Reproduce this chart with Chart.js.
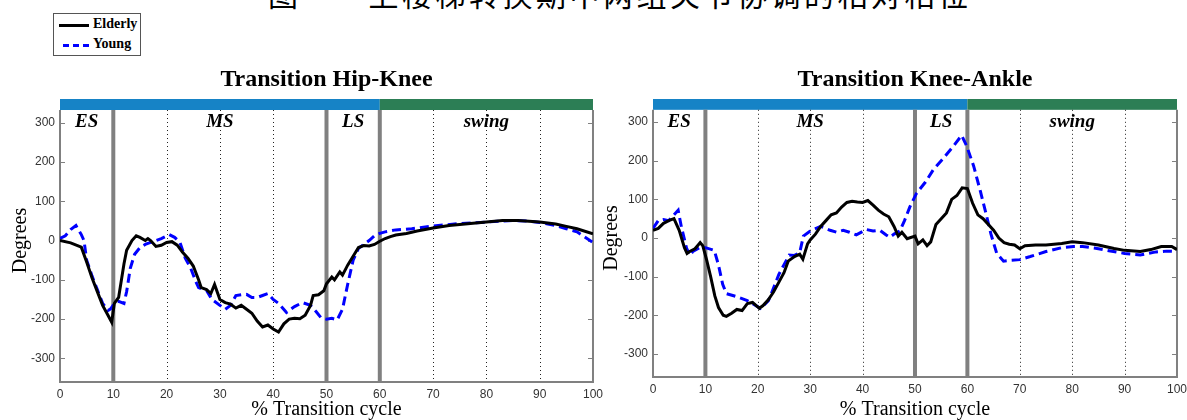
<!DOCTYPE html>
<html>
<head>
<meta charset="utf-8">
<script src="https://cdn.jsdelivr.net/npm/chart.js@4.4.1/dist/chart.umd.min.js"></script>
<style>
  body { margin: 0; background: #fff; width: 1187px; height: 420px; overflow: hidden; position: relative; }
  canvas { position: absolute; top: 0; }
  #figTitle { position: absolute; left: 268px; top: -23px; font: 30px "Noto Sans CJK SC", sans-serif; line-height: 32px; white-space: pre; letter-spacing: 3.5px; color: #000; }
  #legend { position: absolute; left: 53px; top: 13px; width: 88px; height: 43px; border: 1px solid #555; box-sizing: border-box; font: bold 14px "Liberation Serif", "Times New Roman", serif; }
  .row { position: absolute; left: 5px; height: 16px; }
  .row span.ln { position: absolute; left: 0; top: 8px; width: 30px; border-top: 3px solid #000; }
  .row span.tx { position: absolute; left: 34px; top: 0; line-height: 16px; }
</style>
</head>
<body>
<div id="figTitle">图　　上楼梯转换期中两组关节协调的相对相位</div>
<div id="legend">
  <div class="row" style="top:2px"><span class="ln"></span><span class="tx">Elderly</span></div>
  <div class="row" style="top:22px"><span class="ln" style="border-top:3px dashed #0000ff; left:4px; width:26px"></span><span class="tx">Young</span></div>
</div>
<canvas id="hipKnee" width="608" height="420" style="left:0"></canvas>
<canvas id="kneeAnkle" width="602" height="420" style="left:590px"></canvas>
<script>
// tick labels and phases
const xTicks = [0, 10, 20, 30, 40, 50, 60, 70, 80, 90, 100];
const yTicks = [-300, -200, -100, 0, 100, 200, 300];
const phaseLabels = ['ES', 'MS', 'LS', 'swing'];
const phaseCenters = [5, 30, 55, 80];
const phaseBounds = [10, 50, 60];
const dottedLines = [20, 30, 40, 70, 80, 90];

// Transition Hip-Knee
const hkElderlyX = [0, 2, 4, 5, 6, 7, 8, 9, 9.7, 10.2, 11, 12, 12.5, 13.5, 14.3, 15, 16, 16.5, 17, 18, 19, 20, 21, 22, 23, 24, 25, 26, 26.5, 27.5, 28.3, 29, 30, 31, 32, 33, 34, 35, 36, 37, 38, 39, 40, 41, 42, 43, 44, 45, 46, 47, 47.5, 48.5, 49.5, 50, 51, 51.5, 52.5, 53, 54, 55, 56, 57, 58, 59, 60, 61, 62, 63, 65, 67, 70, 73, 76, 80, 83, 86, 90, 93, 95, 97, 100];
const hkElderlyY = [0, -6, -17, -55, -95, -130, -165, -190, -208, -160, -145, -60, -25, 0, 12, 8, 0, 5, 0, -15, -12, -5, -3, -12, -30, -45, -65, -100, -120, -125, -135, -112, -150, -158, -162, -172, -165, -175, -185, -205, -220, -215, -225, -233, -212, -200, -198, -199, -190, -165, -140, -138, -128, -110, -93, -100, -80, -88, -62, -40, -18, -13, -14, -10, -2, 5, 10, 14, 18, 24, 32, 38, 42, 47, 51, 51, 47, 42, 36, 30, 17];
const hkYoungX = [0, 1, 2, 3, 4, 4.5, 5, 6, 7, 8, 9, 9.5, 10.3, 11, 12, 12.5, 13.2, 14, 15, 16, 17, 18, 19, 20.5, 21.5, 22.5, 23.5, 24.5, 25.5, 26, 27.5, 28.5, 30, 31, 32, 33, 34, 35, 36, 37, 38, 39, 40, 41, 42.5, 44, 45.5, 47, 48, 49, 50, 51, 52, 53, 54, 55, 56, 57, 58, 59, 60, 61, 63, 66, 70, 75, 80, 85, 88, 90, 93, 95, 97, 100];
const hkYoungY = [5, 12, 28, 38, 15, 0, -50, -90, -125, -160, -178, -174, -158, -155, -160, -130, -70, -35, -18, -10, -5, 0, 5, 15, 8, -5, -45, -70, -105, -120, -127, -150, -165, -175, -165, -140, -138, -137, -145, -145, -140, -135, -150, -160, -183, -168, -158, -165, -180, -197, -200, -198, -202, -175, -110, -50, -20, -10, 0, 12, 18, 22, 27, 30, 37, 43, 47, 51, 49, 46, 38, 30, 22, -5];

// Transition Knee-Ankle
const kaElderlyX = [0, 1, 2, 3, 4, 5, 6, 6.5, 7, 8, 8.5, 9, 9.5, 10.2, 11, 11.8, 12.5, 13.4, 14, 15, 16, 17, 18, 19, 20.3, 21, 22, 23, 24, 25, 25.8, 27, 28, 28.6, 29.5, 30, 31, 32, 33, 34, 35, 36, 37, 38, 39, 40, 41, 42, 43, 44, 45, 46, 46.8, 47.5, 48.5, 50, 50.6, 51.5, 52.3, 53, 54, 55, 56, 57, 58, 59, 60, 61, 62, 63, 64, 65, 66, 67, 68, 69, 70, 71, 73, 75, 78, 80, 82, 85, 88, 90, 93, 95, 97, 99, 100];
const kaElderlyY = [20, 25, 38, 45, 50, 20, -25, -40, -35, -28, -20, -12, -20, -55, -100, -150, -180, -200, -203, -195, -185, -188, -170, -167, -182, -175, -160, -140, -115, -90, -60, -48, -42, -55, -15, -5, 10, 30, 45, 60, 65, 80, 92, 95, 93, 92, 97, 85, 72, 62, 55, 30, 5, 15, -2, 5, -15, -5, -20, -10, 35, 50, 65, 100, 110, 130, 128, 90, 60, 50, 35, 20, 0, -12, -16, -18, -28, -20, -18, -18, -14, -10, -12, -18, -27, -32, -35, -30, -22, -22, -30];
const kaYoungX = [0, 1, 2, 3, 4, 4.8, 5.4, 6.4, 7, 7.6, 8.8, 10, 11.7, 12.5, 13.3, 14, 16, 18, 19, 20.5, 22, 23, 24, 24.8, 26, 27, 28, 28.7, 30, 32, 33.8, 35, 36.3, 37.5, 38.8, 40.7, 42, 43.3, 44.5, 45.2, 46, 47.1, 48, 49, 50.3, 52, 53.5, 55, 57.3, 58.9, 59.9, 61.2, 62.5, 63.7, 64.5, 65.6, 66.9, 68, 70, 72, 75, 78, 80.3, 82, 84.2, 87, 90, 93, 96, 98, 100];
const kaYoungY = [25, 45, 48, 45, 60, 72, 30, -26, -45, -35, -26, -25, -32, -70, -120, -144, -152, -162, -170, -182, -163, -130, -95, -74, -44, -45, -38, 5, 18, 30, 20, 15, 20, 15, 8, 22, 18, 20, 8, 2, 10, 18, 45, 80, 116, 145, 177, 200, 237, 266, 237, 186, 120, 55, 10, -40, -60, -58, -56, -48, -35, -25, -22, -22, -26, -33, -40, -44, -36, -34, -35];

const serif = '"Liberation Serif", "Times New Roman", serif';
const sans = '"Liberation Sans", Arial, sans-serif';

function toPoints(xs, ys) {
  return xs.map((x, i) => ({ x: x, y: ys[i] }));
}

const phasePlugin = {
  id: 'phases',
  beforeDatasetsDraw(chart) {
    const { ctx, chartArea: a, scales: { x, y } } = chart;
    const barTop = y.getPixelForValue(360);
    const barBottom = y.getPixelForValue(332);
    ctx.save();
    // phase bar
    ctx.fillStyle = '#1683c6';
    ctx.fillRect(x.getPixelForValue(0), barTop, x.getPixelForValue(60) - x.getPixelForValue(0), barBottom - barTop);
    ctx.fillStyle = '#2c7e55';
    ctx.fillRect(x.getPixelForValue(60), barTop, x.getPixelForValue(100) - x.getPixelForValue(60), barBottom - barTop);
    // dotted grid
    ctx.strokeStyle = '#222';
    ctx.lineWidth = 1;
    ctx.setLineDash([1, 3]);
    dottedLines.forEach(v => {
      const px = Math.round(x.getPixelForValue(v)) + 0.5;
      ctx.beginPath();
      ctx.moveTo(px, barBottom);
      ctx.lineTo(px, a.bottom);
      ctx.stroke();
    });
    ctx.setLineDash([]);
    // phase boundaries
    ctx.strokeStyle = '#808080';
    ctx.lineWidth = 4;
    phaseBounds.forEach(v => {
      const px = x.getPixelForValue(v);
      ctx.beginPath();
      ctx.moveTo(px, barBottom);
      ctx.lineTo(px, a.bottom);
      ctx.stroke();
    });
    // spines
    ctx.lineWidth = 2;
    ctx.beginPath();
    ctx.moveTo(a.left, barBottom);
    ctx.lineTo(a.left, a.bottom);
    ctx.lineTo(a.right, a.bottom);
    ctx.lineTo(a.right, barBottom);
    ctx.stroke();
    // inside tick marks
    ctx.lineWidth = 1;
    yTicks.forEach(v => {
      const py = Math.round(y.getPixelForValue(v)) + 0.5;
      ctx.beginPath();
      ctx.moveTo(a.left, py);
      ctx.lineTo(a.left + 5, py);
      ctx.moveTo(a.right, py);
      ctx.lineTo(a.right - 5, py);
      ctx.stroke();
    });
    ctx.restore();
  },
  afterDatasetsDraw(chart) {
    const { ctx, scales: { x, y } } = chart;
    ctx.save();
    ctx.fillStyle = '#000';
    ctx.font = 'italic bold 19px ' + serif;
    ctx.textAlign = 'center';
    ctx.textBaseline = 'middle';
    phaseLabels.forEach((t, i) => {
      ctx.fillText(t, x.getPixelForValue(phaseCenters[i]), y.getPixelForValue(300));
    });
    ctx.restore();
  }
};

function makeChart(id, title, elderly, young, yWidth, yTitlePad, xHeight, rightPad) {
  new Chart(document.getElementById(id), {
    type: 'line',
    data: {
      datasets: [
        { label: 'Elderly', data: elderly, borderColor: '#000', borderWidth: 3, pointRadius: 0, tension: 0 },
        { label: 'Young', data: young, borderColor: '#0000ff', borderWidth: 3, borderDash: [9, 5], pointRadius: 0, tension: 0 }
      ]
    },
    options: {
      responsive: false,
      animation: false,
      devicePixelRatio: 1,
      layout: { padding: { left: 0, right: rightPad, top: 0, bottom: 0 } },
      plugins: {
        legend: { display: false },
        tooltip: { enabled: false },
        title: {
          display: true,
          fullSize: false,
          text: title,
          color: '#000',
          font: { family: serif, size: 24, weight: 'bold', lineHeight: 1 },
          padding: { top: 68, bottom: 7 }
        }
      },
      scales: {
        x: {
          type: 'linear',
          min: 0,
          max: 100,
          grid: { display: false, drawTicks: false },
          border: { display: false },
          afterBuildTicks: s => { s.ticks = xTicks.map(v => ({ value: v })); },
          afterFit: s => { s.height = xHeight; },
          ticks: { color: '#333', font: { family: sans, size: 12 }, padding: 5, maxRotation: 0, autoSkip: false },
          title: { display: true, text: '% Transition cycle', color: '#000', font: { family: serif, size: 20, lineHeight: 1 }, padding: 0 }
        },
        y: {
          min: -360,
          max: 360,
          grid: { display: false, drawTicks: false },
          border: { display: false },
          afterBuildTicks: s => { s.ticks = yTicks.map(v => ({ value: v })); },
          afterFit: s => { s.width = yWidth; },
          ticks: { color: '#333', font: { family: sans, size: 12 }, padding: 5, autoSkip: false },
          title: { display: true, text: 'Degrees', color: '#000', font: { family: serif, size: 20, lineHeight: 1 }, padding: { top: yTitlePad, bottom: 0 } }
        }
      }
    },
    plugins: [phasePlugin]
  });
}

makeChart('hipKnee', 'Transition Hip-Knee', toPoints(hkElderlyX, hkElderlyY), toPoints(hkYoungX, hkYoungY), 60, 11, 38, 7);
makeChart('kneeAnkle', 'Transition Knee-Ankle', toPoints(kaElderlyX, kaElderlyY), toPoints(kaYoungX, kaYoungY), 63, 12, 43, 10);
</script>
</body>
</html>
